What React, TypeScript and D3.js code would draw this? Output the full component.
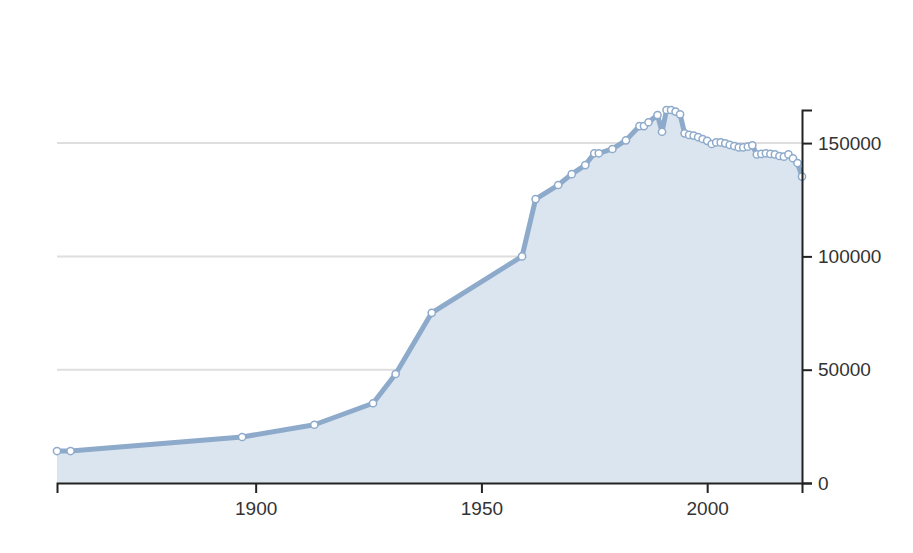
import React, {useRef, useEffect} from 'react'
import * as d3 from 'd3'

const years = [
  1856, 1859, 1897, 1913, 1926, 1931, 1939, 1959, 1962, 1967, 1970, 1973, 1975, 1976, 1979,
  1982, 1985, 1986, 1987, 1989, 1990, 1991, 1992, 1993, 1994, 1995, 1996, 1997, 1998, 1999,
  2000, 2001, 2002, 2003, 2004, 2005, 2006, 2007, 2008, 2009, 2010, 2011, 2012, 2013, 2014,
  2015, 2016, 2017, 2018, 2019, 2020, 2021,
]

const population = [
  14100, 14100, 20300, 25700, 35200, 48100, 75100, 100000, 125300, 131500, 136300, 140300,
  145500, 145500, 147400, 151200, 157500, 157500, 159200, 162400, 155000, 164600, 164600,
  163900, 162700, 154300, 153600, 153300, 152600, 151800, 151000, 149600, 150300, 150300,
  149900, 149200, 148700, 148100, 148100, 148400, 149000, 145000, 145200, 145500, 145200,
  145000, 144300, 144000, 145000, 143300, 141200, 135200,
]

const yTicks = [0, 50000, 100000, 150000]
const xTicks = [1900, 1950, 2000]

function PopulationChart() {
  const ref: any = useRef<SVGSVGElement>(null)

  useEffect(() => {
    const svg = d3.select(ref.current)
    svg.selectAll('*').remove()

    const margin = {top: 110, right: 111, bottom: 70, left: 57}
    const width = 913 - margin.left - margin.right
    const height = 553 - margin.top - margin.bottom

    const data = years.map((y, i) => ({year: y, value: population[i]}))

    const x = d3
      .scaleLinear()
      // @ts-ignore
      .domain(d3.extent(years))
      .range([0, width])

    const y = d3
      .scaleLinear()
      // @ts-ignore
      .domain([0, d3.max(population)])
      .range([height, 0])

    const g = svg.append('g').attr('transform', `translate(${margin.left},${margin.top})`)

    // grid lines
    g.append('g')
      .selectAll('line')
      .data(yTicks.filter(t => t > 0))
      .enter()
      .append('line')
      .attr('x1', 0)
      .attr('x2', width)
      .attr('y1', d => y(d))
      .attr('y2', d => y(d))
      .attr('stroke', '#dedede')
      .attr('stroke-width', 2)

    const area = d3
      .area<any>()
      .x(d => x(d.year))
      .y0(height)
      .y1(d => y(d.value))

    const line = d3
      .line<any>()
      .x(d => x(d.year))
      .y(d => y(d.value))

    g.append('path').datum(data).attr('d', area).attr('fill', '#dbe5ef')

    g.append('path')
      .datum(data)
      .attr('d', line)
      .attr('fill', 'none')
      .attr('stroke', '#8eaacb')
      .attr('stroke-width', 5)
      .attr('stroke-linejoin', 'round')

    g.append('g')
      .selectAll('circle')
      .data(data)
      .enter()
      .append('circle')
      .attr('cx', d => x(d.year))
      .attr('cy', d => y(d.value))
      .attr('r', 3.6)
      .attr('fill', '#fff')
      .attr('stroke', '#8eaacb')
      .attr('stroke-width', 1.5)

    // axes
    const xAxis: any = g
      .append('g')
      .attr('transform', `translate(0,${height})`)
      .call(d3.axisBottom(x).tickValues(xTicks).tickFormat(d3.format('d')).tickSize(10).tickPadding(9))

    const yAxis: any = g
      .append('g')
      .attr('transform', `translate(${width},0)`)
      .call(d3.axisRight(y).tickValues(yTicks).tickFormat(d3.format('d')).tickSize(10).tickPadding(6))

    for (const ax of [xAxis, yAxis]) {
      ax.selectAll('path').attr('stroke', '#222').attr('stroke-width', 2)
      ax.selectAll('line').attr('stroke', '#222').attr('stroke-width', 2)
      ax.selectAll('text')
        .attr('fill', '#333')
        .style('font-size', '19px')
        .style('font-family', 'Arial, "Liberation Sans", sans-serif')
    }
  }, [])

  return (
    <svg
      ref={ref}
      width={913}
      height={553}
      style={{position: 'absolute', left: 0, top: 0, background: '#fff'}}
    />
  )
}

export default function App() {
  return <PopulationChart />
}
